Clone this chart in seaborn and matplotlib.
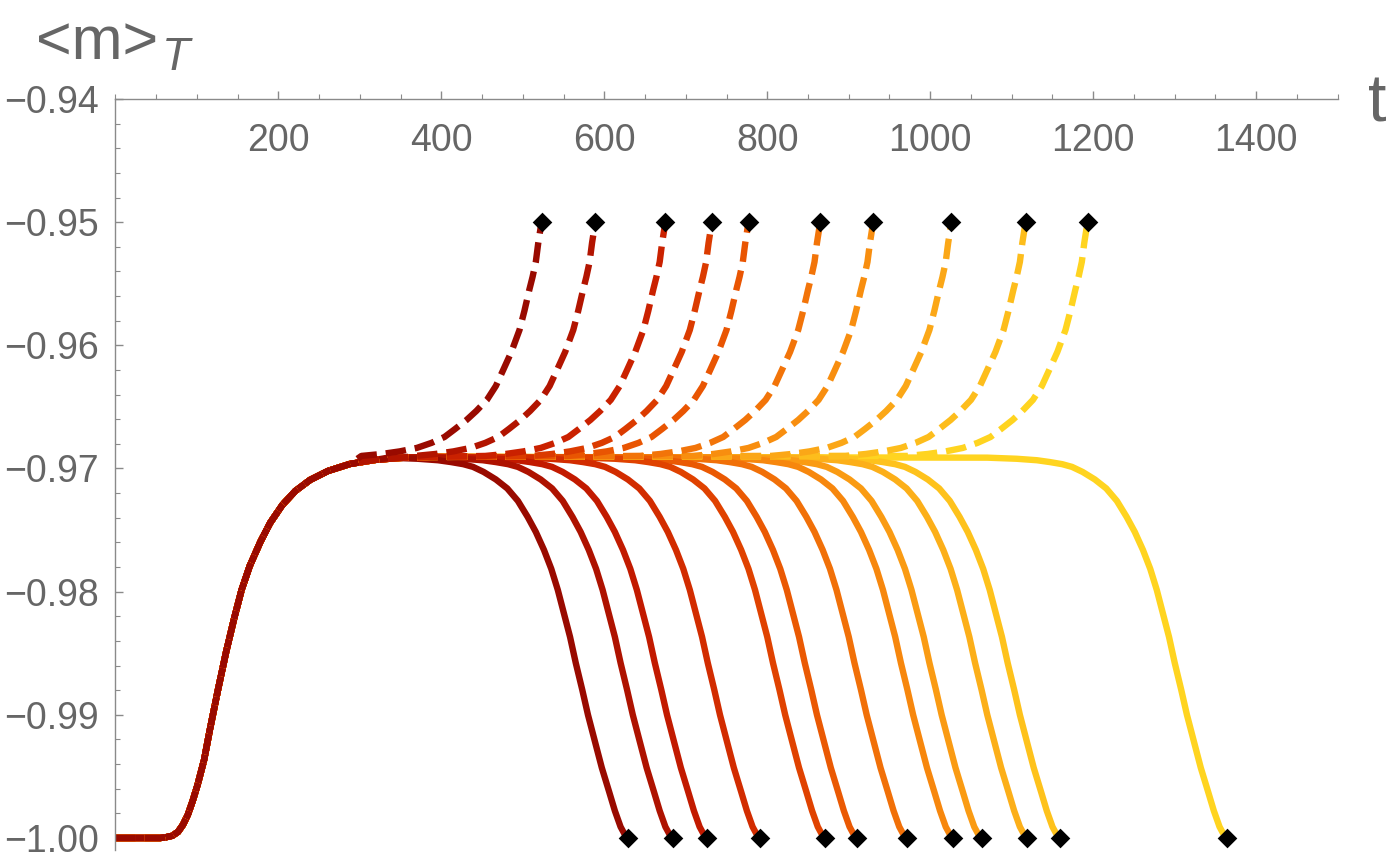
import matplotlib
matplotlib.use("Agg")
import matplotlib.pyplot as plt
from matplotlib.ticker import MultipleLocator
import seaborn as sns
import pandas as pd

sns.set_theme(style="white")
plt.rcParams["font.family"] = ["Liberation Sans", "DejaVu Sans"]

# common rise from -1 to the plateau (t, <m>_T)
rise_t = [0, 43, 55, 62, 70, 77, 83, 89, 95, 101, 109, 116, 126, 136, 146, 155,
          165, 178, 190, 205, 221, 239, 261, 288, 319, 349, 386]
rise_m = [-1.0, -1.0, -1.0, -0.99994, -0.99982, -0.99950, -0.99893, -0.99812,
          -0.99698, -0.99568, -0.99365, -0.99122, -0.98797, -0.98489, -0.98213,
          -0.97985, -0.97791, -0.97596, -0.97442, -0.97296, -0.97182, -0.97093,
          -0.97020, -0.96963, -0.96930, -0.96914, -0.96906]

# solid curves: drop from plateau to -1, time counted back from the end point
drop_dt = [-294, -258, -233, -217, -202, -190, -177, -162, -148, -135, -123,
           -113, -103, -94, -86, -79, -71, -64, -56, -49, -40, -32, -23, -16,
           -9, -4, 0]
drop_m = [-0.96912, -0.96921, -0.96933, -0.96948, -0.96965, -0.96987, -0.97028,
          -0.97089, -0.97162, -0.97263, -0.97393, -0.97515, -0.97661, -0.97815,
          -0.97986, -0.98164, -0.98367, -0.98578, -0.98797, -0.99000, -0.99228,
          -0.99430, -0.99625, -0.99779, -0.99909, -0.99970, -1.0]

# dashed curves: escape from plateau up to -0.95
up_dt = [-221, -196, -174, -153, -135, -119, -106, -92, -80, -67, -56, -47,
         -37, -27, -21, -15, -11, -7, -4, 0]
up_m = [-0.96898, -0.96882, -0.96861, -0.96833, -0.96792, -0.96744, -0.96679,
        -0.96606, -0.96533, -0.96443, -0.96330, -0.96200, -0.96054, -0.95875,
        -0.95721, -0.95550, -0.95445, -0.95323, -0.95169, -0.95]

# end times (diamonds)
solid_end = [629, 684, 726, 791, 871, 910, 971, 1028, 1063, 1119, 1159, 1364]
dashed_end = [523, 589, 675, 732, 777, 865, 930, 1026, 1117, 1193]

xticks = [200, 400, 600, 800, 1000, 1200, 1400]
yticks = [-1.00, -0.99, -0.98, -0.97, -0.96, -0.95, -0.94]
ylabels = ["\u22121.00", "\u22120.99", "\u22120.98", "\u22120.97", "\u22120.96", "\u22120.95", "\u22120.94"]

anchors = ["#990a00", "#c71c00", "#e54a00", "#f67f0b", "#fcab18", "#ffd420"]
solid_pal = sns.blend_palette(anchors, len(solid_end))
dash_pal = sns.blend_palette(anchors, len(dashed_end))

rows = []
for i, te in enumerate(solid_end):
    t0 = te + drop_dt[0]
    for t, m in zip(rise_t, rise_m):
        if t < t0:
            rows.append((f"s{i}", "solid", t, m))
    for dt, m in zip(drop_dt, drop_m):
        rows.append((f"s{i}", "solid", te + dt, m))
for i, te in enumerate(dashed_end):
    t0 = te + up_dt[0]
    for t, m in zip(rise_t, rise_m):
        if t < t0:
            rows.append((f"d{i}", "dashed", t, m))
    for dt, m in zip(up_dt, up_m):
        rows.append((f"d{i}", "dashed", te + dt, m))
df = pd.DataFrame(rows, columns=["curve", "kind", "t", "m"])

palette = {f"s{i}": c for i, c in enumerate(solid_pal)}
palette.update({f"d{i}": c for i, c in enumerate(dash_pal)})
hue_order = [f"s{i}" for i in reversed(range(len(solid_end)))] + \
            [f"d{i}" for i in reversed(range(len(dashed_end)))]

fig = plt.figure(figsize=(13.88, 8.67), dpi=100)
ax = fig.add_axes([0.08307, 0.01926, 0.88069, 0.86655])

sns.lineplot(data=df, x="t", y="m", hue="curve", style="kind", hue_order=hue_order,
             style_order=["solid", "dashed"], palette=palette,
             dashes={"solid": "", "dashed": (3.2, 1.4)},
             sort=False, estimator=None, legend=False, linewidth=4.6,
             solid_joinstyle="round", ax=ax)

ends = pd.DataFrame({"t": solid_end + dashed_end,
                     "m": [-1.0] * len(solid_end) + [-0.95] * len(dashed_end)})
sns.scatterplot(data=ends, x="t", y="m", marker="D", s=100, color="black",
                linewidth=0, zorder=5, clip_on=False, ax=ax)

ax.set_xlim(0, 1500)
ax.set_ylim(-1.001, -0.94)
ax.spines[["top", "right"]].set_visible(False)
ax.spines["bottom"].set_position(("data", -0.94))
for s in ["left", "bottom"]:
    ax.spines[s].set_color("#8a8a8a")
    ax.spines[s].set_linewidth(1.0)

ax.set_xticks(xticks)
ax.set_yticks(yticks, labels=ylabels)
ax.xaxis.set_minor_locator(MultipleLocator(50))
ax.yaxis.set_minor_locator(MultipleLocator(0.002))
ax.tick_params(which="both", direction="in", bottom=True, left=True,
               colors="#8a8a8a", labelcolor="#666666", labelsize=27)
ax.tick_params(which="major", length=6, width=1)
ax.tick_params(which="minor", length=3.3, width=0.8)
ax.tick_params(axis="x", pad=17)
ax.tick_params(axis="y", pad=12)
ax.set_xlabel("")
ax.set_ylabel("")

fig.text(36 / 1388, (867 - 59) / 867, "<m>", fontsize=44, color="#666666",
         ha="left", va="baseline")
fig.text(162 / 1388, (867 - 70) / 867, "T", fontsize=33, style="italic",
         color="#666666", ha="left", va="baseline")
fig.text(1368 / 1388, (867 - 122) / 867, "t", fontsize=48, color="#666666",
         ha="left", va="baseline")

fig.savefig("out.png", dpi=100, facecolor="white")
